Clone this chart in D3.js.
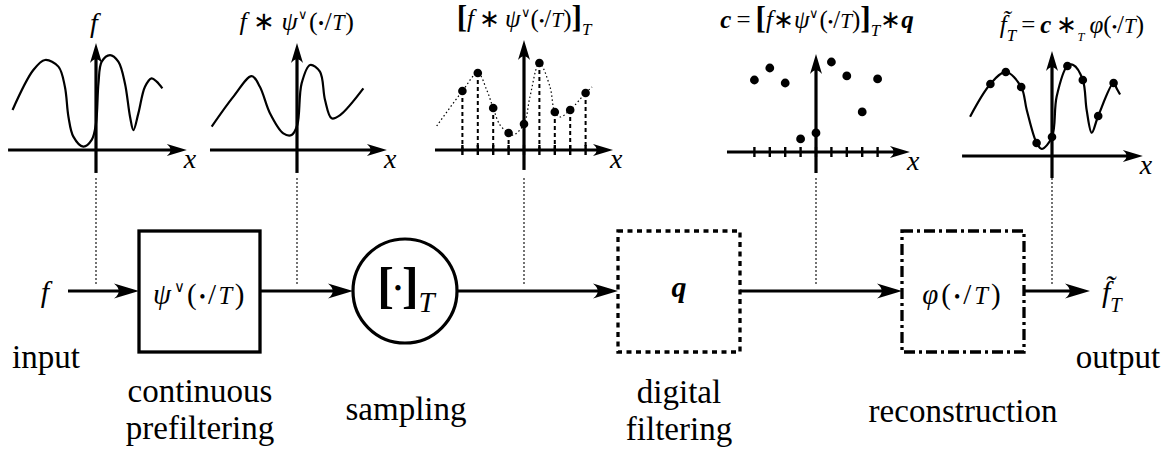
<!DOCTYPE html>
<html>
<head>
<meta charset="utf-8">
<script src="https://cdnjs.cloudflare.com/ajax/libs/d3/7.8.5/d3.min.js"></script>
</head>
<body style="margin:0">
<script>
/* values: x in sample steps, y in arbitrary units */

var sampleIdx = [-4, -3, -2, -1, 0, 1, 2, 3, 4];

// input signal f
var inputCurve = [[-5.42,2.67],[-4.07,5.33],[-3.31,6.0],[-2.44,5.56],[-2.02,4.22],[-1.79,2.22],
  [-1.47,0.89],[-0.82,0.22],[-0.28,0.67],[0,1.78],[0.16,4.44],[0.37,5.89],[0.91,6.33],[1.45,5.89],
  [1.88,4.44],[2.21,2.22],[2.43,1.33],[2.75,2.44],[3.18,4.22],[3.61,4.78],[3.94,4.56],[4.31,4.11]];

// prefiltered f * psi
var prefilterCurve = [[-5.54,1.56],[-4.13,3.56],[-2.94,4.93],[-2.41,4.22],[-1.75,2.44],[-0.89,1.11],
  [-0.35,1.0],[0.02,1.67],[0.30,4.44],[0.85,5.67],[1.49,5.22],[1.82,3.33],[2.25,2.11],[2.80,2.33],[4.31,4.11]];

// dotted guide through the samples
var sampledCurve = [[-5.67,1.6],[-4,3.93],[-3,5.13],[-2.42,4.0],[-2,2.8],[-1.56,1.67],[-1,1.13],
  [-0.69,1.0],[0,1.73],[0.39,3.56],[1,5.8],[1.69,4.2],[2,2.53],[2.34,2.2],[3,2.67],[4,3.8],[4.42,4.2]];

var sampleVals = [3.93, 5.13, 2.8, 1.13, 1.73, 5.8, 2.53, 2.67, 3.8];
var coefVals = [4.8, 5.6, 4.6, 0.87, 1.27, 6.0, 5.07, 2.67, 4.87];

// reconstructed signal
var reconCurve = [[-5.32,2.62],[-4,4.8],[-3,5.6],[-2,4.6],[-1.64,3.07],[-1,0.87],[-0.67,0.47],
  [0,1.27],[0.3,3.95],[1,6.0],[1.38,6.07],[2,5.07],[2.25,3.07],[2.58,1.55],[3,2.67],[4,4.87],
  [4.2,4.5],[4.42,4.1]];

var stageNames = [["input"], ["continuous", "prefiltering"], ["sampling"],
  ["digital", "filtering"], ["reconstruction"], ["output"]];

/* layout */
var W = 1171, H = 453;
var ux = 15.4, uy = 15;
var panels = [
  {ox: 96,   oy: 150, x0: -5.71, x1: 5.9,  y0: -1.53, y1: 7.13},
  {ox: 297,  oy: 150, x0: -5.65, x1: 5.84, y0: -1.53, y1: 7.13},
  {ox: 524,  oy: 150, x0: -5.78, x1: 5.78, y0: -1.33, y1: 7.33},
  {ox: 816,  oy: 152, x0: -5.78, x1: 6.1,  y0: -1.4,  y1: 6.53},
  {ox: 1052, oy: 156, x0: -5.84, x1: 5.9,  y0: -1.47, y1: 7.0}
];
var mainY = 291;
var FONT = "'Liberation Serif'";

var svg = d3.select("body").append("svg")
    .attr("width", W)
    .attr("height", H);
svg.append("rect").attr("width", W).attr("height", H).attr("fill", "#fff");

// stealth-like arrow head with its tip at (x,y)
function arrowHead(g, x, y, ang, len, wid) {
  g.append("path")
    .attr("d", "M0,0 L" + (-len) + "," + (-wid / 2) + " Q" + (-len * 0.62) + ",0 " + (-len) + "," + (wid / 2) + " Z")
    .attr("transform", "translate(" + x + "," + y + ") rotate(" + ang + ")")
    .attr("fill", "#000");
}

// little math typesetter using tspans
function mathText(g, x, y, size, parts, anchor, spacing) {
  var t = g.append("text")
      .attr("x", x).attr("y", y)
      .style("font-family", FONT)
      .style("font-size", size + "px")
      .style("letter-spacing", (spacing || 0) + "px")
      .attr("text-anchor", anchor || "middle")
      .attr("xml:space", "preserve");
  var cur = 0;
  parts.forEach(function(p) {
    if (typeof p === "string") p = {t: p};
    var s = t.append("tspan").text(p.t);
    var off = (p.sub ? 0.32 : p.sup ? -0.42 : 0) * size + (p.dy || 0);
    if (off !== cur) { s.attr("dy", off - cur); cur = off; }
    if (p.i) s.style("font-style", "italic");
    if (p.b) s.style("font-weight", "bold");
    var fs = p.k ? p.k * size : (p.sub || p.sup) ? 0.68 * size : null;
    if (fs) s.style("font-size", fs + "px");
  });
  return t;
}

var DOT = {t: "\u2022", k: 0.62, dy: -1};
var PSI = [{t: "\u03C8", i: true}, {t: "\u2228", sup: true, k: 0.5}, "(", DOT, "/", {t: "T", i: true, k: 0.85}, ")"];
var PHI = [{t: "\u03C6", i: true}, "(", DOT, "/", {t: "T", i: true, k: 0.85}, ")"];

/* ---- small panels ---- */
panels.forEach(function(p, idx) {
  var g = svg.append("g");
  var x = d3.scaleLinear().domain([p.x0, p.x1]).range([p.ox + p.x0 * ux, p.ox + p.x1 * ux]);
  var y = d3.scaleLinear().domain([p.y0, p.y1]).range([p.oy - p.y0 * uy, p.oy - p.y1 * uy]);
  p.x = x; p.y = y;

  // axes
  g.append("line").attr("x1", x(p.x0)).attr("x2", x(p.x1) - 12)
    .attr("y1", y(0)).attr("y2", y(0)).attr("stroke", "#000").attr("stroke-width", 3.2);
  arrowHead(g, x(p.x1), y(0), 0, 20, 12);
  g.append("line").attr("x1", x(0)).attr("x2", x(0))
    .attr("y1", y(p.y0)).attr("y2", y(p.y1) + 12).attr("stroke", "#000").attr("stroke-width", 3.2);
  arrowHead(g, x(0), y(p.y1), -90, 20, 12);

  g.append("text").attr("x", x(p.x1) - 3).attr("y", y(0) + 18)
    .style("font-family", FONT)
    .style("font-size", "28px").style("font-style", "italic").text("x");

  if (idx === 2 || idx === 3) {
    g.selectAll(".tick").data(sampleIdx).enter().append("line")
      .attr("x1", function(d) { return x(d); }).attr("x2", function(d) { return x(d); })
      .attr("y1", y(0) - 5).attr("y2", y(0) + 5)
      .attr("stroke", "#000").attr("stroke-width", 2.4);
  }
});

function curve(p) {
  return d3.line()
    .x(function(d) { return p.x(d[0]); })
    .y(function(d) { return p.y(d[1]); })
    .curve(d3.curveCatmullRom.alpha(0.5));
}

var P = panels;
svg.append("path").datum(inputCurve).attr("d", curve(P[0]))
  .attr("fill", "none").attr("stroke", "#000").attr("stroke-width", 2.2);
svg.append("path").datum(prefilterCurve).attr("d", curve(P[1]))
  .attr("fill", "none").attr("stroke", "#000").attr("stroke-width", 2.2);
svg.append("path").datum(sampledCurve).attr("d", curve(P[2]))
  .attr("fill", "none").attr("stroke", "#000").attr("stroke-width", 1.2).attr("stroke-dasharray", "1.5,2.5");

var samples = sampleIdx.map(function(k, i) { return [k, sampleVals[i]]; });
var coefs = sampleIdx.map(function(k, i) { return [k, coefVals[i]]; });

svg.selectAll(".stem").data(samples).enter().append("line")
  .attr("x1", function(d) { return P[2].x(d[0]); }).attr("x2", function(d) { return P[2].x(d[0]); })
  .attr("y1", function(d) { return P[2].y(d[1]); }).attr("y2", P[2].y(0))
  .attr("stroke", "#000").attr("stroke-width", 2).attr("stroke-dasharray", "4,3");
svg.selectAll(".samp").data(samples).enter().append("circle")
  .attr("cx", function(d) { return P[2].x(d[0]); }).attr("cy", function(d) { return P[2].y(d[1]); })
  .attr("r", 4.3);

svg.selectAll(".coef").data(coefs).enter().append("circle")
  .attr("cx", function(d) { return P[3].x(d[0]); }).attr("cy", function(d) { return P[3].y(d[1]); })
  .attr("r", 4.4);

svg.append("path").datum(reconCurve).attr("d", curve(P[4]))
  .attr("fill", "none").attr("stroke", "#000").attr("stroke-width", 2.2);
svg.selectAll(".rec").data(coefs).enter().append("circle")
  .attr("cx", function(d) { return P[4].x(d[0]); }).attr("cy", function(d) { return P[4].y(d[1]); })
  .attr("r", 4.3);

/* panel titles */
var SP = "\u2009";
mathText(svg, 94, 32, 28, [{t: "f", i: true}]);
mathText(svg, 297, 30, 26, [{t: "f", i: true}, SP + "\u2217" + SP].concat(PSI), "middle", 0.6);
mathText(svg, 524, 27, 25, [{t: "[", b: true, k: 1.25}, {t: "f", i: true}, SP + "\u2217" + SP]
  .concat(PSI).concat([{t: "]", b: true, k: 1.25}, {t: "T", i: true, sub: true}]));
mathText(svg, 817, 28, 25, [{t: "c", b: true, i: true}, SP + "=" + SP, {t: "[", b: true, k: 1.25}, {t: "f", i: true}, "\u2217"]
  .concat(PSI).concat([{t: "]", b: true, k: 1.25}, {t: "T", i: true, sub: true}, "\u2217", {t: "q", b: true, i: true}]));
mathText(svg, 1072, 33, 25, [{t: "f\u0303", i: true}, {t: "T", i: true, sub: true}, SP + "=" + SP,
  {t: "c", b: true, i: true}, SP + "\u2217", {t: "T", i: true, sub: true, k: 0.5}, SP].concat(PHI));

/* dotted guides from panels to the chain */
svg.selectAll(".guide").data(panels).enter().append("line")
  .attr("x1", function(p) { return p.ox; }).attr("x2", function(p) { return p.ox; })
  .attr("y1", 178).attr("y2", 284)
  .attr("stroke", "#000").attr("stroke-width", 1.1).attr("stroke-dasharray", "2,2");

/* ---- processing chain ---- */
var boxes = [
  {x: 139, w: 121, dash: null},
  {x: 618, w: 122, dash: "5,4.5"},
  {x: 902, w: 122, dash: "11,4,3,4"}
];
var boxTop = 231, boxH = 121;
svg.selectAll(".box").data(boxes).enter().append("rect")
  .attr("x", function(d) { return d.x; }).attr("y", boxTop)
  .attr("width", function(d) { return d.w; }).attr("height", boxH)
  .attr("fill", "none").attr("stroke", "#000").attr("stroke-width", 3.3)
  .attr("stroke-dasharray", function(d) { return d.dash; });

svg.append("circle").attr("cx", 405).attr("cy", mainY).attr("r", 52)
  .attr("fill", "none").attr("stroke", "#000").attr("stroke-width", 3.2);

var links = [[68, 139], [260, 353], [458, 618], [740, 902], [1024, 1090]];
links.forEach(function(l) {
  svg.append("line").attr("x1", l[0]).attr("x2", l[1] - 14)
    .attr("y1", mainY).attr("y2", mainY).attr("stroke", "#000").attr("stroke-width", 3.2);
  arrowHead(svg, l[1], mainY, 0, 25, 15);
});

mathText(svg, 45, 302, 30, [{t: "f", i: true}]);
mathText(svg, 200, 304, 29, PSI, "middle", 2.5);
mathText(svg, 406, 302, 50, [{t: "[", b: true}, {t: "\u2022", k: 0.45, dy: -6}, {t: "]", b: true}, {t: "T", i: true, sub: true, k: 0.58, dy: -6}]);
mathText(svg, 679, 297, 30, [{t: "q", b: true, i: true}]);
mathText(svg, 963, 304, 29, PHI, "middle", 3);
mathText(svg, 1102, 302, 30, [{t: "f\u0303", i: true}, {t: "T", i: true, sub: true}], "start");

/* stage names */
var namePos = [[46, 368], [200, 402], [406, 420], [679, 403], [963, 422], [1118, 368]];
stageNames.forEach(function(lines, i) {
  lines.forEach(function(s, j) {
    svg.append("text").attr("x", namePos[i][0]).attr("y", namePos[i][1] + j * 37)
      .style("font-family", FONT)
      .style("font-size", "33px")
      .attr("text-anchor", "middle").text(s);
  });
});
</script>
</body>
</html>
